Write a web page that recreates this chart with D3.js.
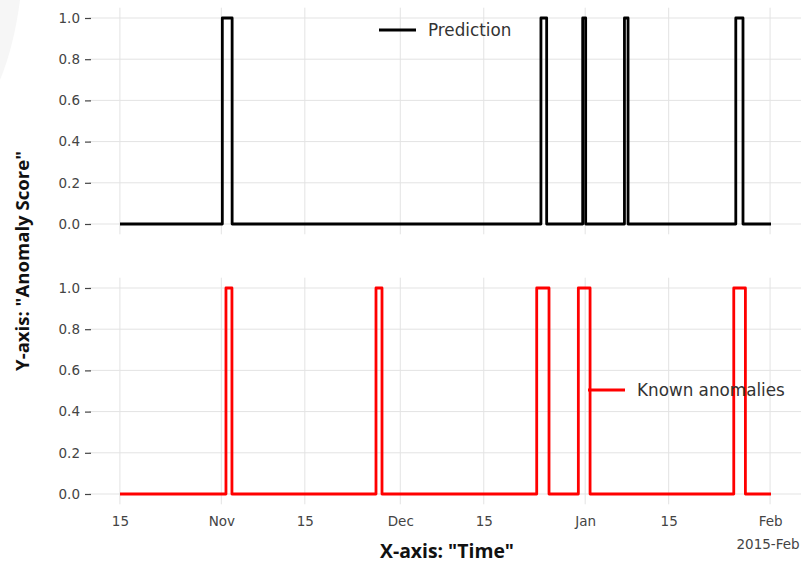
<!DOCTYPE html>
<html>
<head>
<meta charset="utf-8">
<script src="https://cdn.jsdelivr.net/npm/d3@7"></script>
<style>
  html, body { margin: 0; padding: 0; background: #fff; }
  svg { display: block; }
</style>
</head>
<body>
<svg id="chart" width="801" height="563"></svg>
<script>
// ---------- data ----------
const seriesStart = "2014-10-15T06:00";
const seriesEnd   = "2015-01-31T22:00";

const predictionStarts = ["2014-11-01T04:00", "2014-12-24T14:00", "2014-12-31T14:00", "2015-01-07T14:00", "2015-01-26T06:00"];
const predictionEnds   = ["2014-11-02T19:30", "2014-12-25T13:00", "2015-01-01T02:00", "2015-01-08T04:30", "2015-01-27T11:00"];

const knownStarts = ["2014-11-01T18:40", "2014-11-26T22:20", "2014-12-23T21:00", "2014-12-30T20:30", "2015-01-25T21:50"];
const knownEnds   = ["2014-11-02T18:45", "2014-11-27T22:30", "2014-12-25T22:30", "2015-01-01T19:40", "2015-01-27T20:40"];

const yTicks = [0, 0.2, 0.4, 0.6, 0.8, 1.0];
const majorTickDates = ["2014-11-01", "2014-12-01", "2015-01-01", "2015-02-01"];
const majorTickLabels = ["Nov", "Dec", "Jan", "Feb"];
const minorTickDates = ["2014-10-15", "2014-11-15", "2014-12-15", "2015-01-15"];
const minorTickLabels = ["15", "15", "15", "15"];
const offsetLabel = "2015-Feb";

const seriesNames = ["Prediction", "Known anomalies"];
const xTitle = 'X-axis: "Time"';
const yTitle = 'Y-axis: "Anomaly Score"';

// ---------- helpers ----------
const parse = s => new Date(s + "Z");
function buildSeries(starts, ends) {
  const pts = [{t: parse(seriesStart), v: 0}];
  starts.forEach((s, i) => {
    pts.push({t: parse(s), v: 1});
    pts.push({t: parse(ends[i]), v: 0});
  });
  pts.push({t: parse(seriesEnd), v: 0});
  return pts;
}
const predSeries = buildSeries(predictionStarts, predictionEnds);
const knownSeries = buildSeries(knownStarts, knownEnds);

const svg = d3.select("#chart");

// faint corner artifact
svg.append("path").attr("d", "M0,0 L20,0 Q14,46 0,80 Z").attr("fill", "#f6f6f6");

// ---------- scales ----------
const t0 = parse(seriesStart), t1 = parse(seriesEnd);
const span = t1 - t0;
const x = d3.scaleUtc()
  .domain([new Date(+t0 - 0.05 * span), new Date(+t1 + 0.05 * span)])
  .range([89, 802]);

const panels = [
  {series: predSeries, color: "#000000", top: 7.7, bottom: 234.3, name: seriesNames[0],
   legendX: 379, legendY: 30, showX: false},
  {series: knownSeries, color: "#ff0000", top: 277.7, bottom: 504.3, name: seriesNames[1],
   legendX: 588, legendY: 390, showX: true}
];

const allTickDates = majorTickDates.concat(minorTickDates).map(parse);

panels.forEach(p => {
  const y = d3.scaleLinear().domain([-0.05, 1.05]).range([p.bottom, p.top]);
  const g = svg.append("g");

  // vertical gridlines
  g.selectAll("line.vg").data(allTickDates).enter().append("line")
    .attr("x1", d => x(d)).attr("x2", d => x(d))
    .attr("y1", p.top).attr("y2", p.bottom)
    .attr("stroke", "#e3e3e3").attr("stroke-width", 1);

  // horizontal gridlines
  g.selectAll("line.hg").data(yTicks).enter().append("line")
    .attr("x1", x.range()[0]).attr("x2", x.range()[1])
    .attr("y1", d => y(d)).attr("y2", d => y(d))
    .attr("stroke", "#e3e3e3").attr("stroke-width", 1);

  // y axis via d3.axisLeft
  const yAxis = d3.axisLeft(y).tickValues(yTicks).tickFormat(d3.format(".1f"))
    .tickSizeInner(6).tickSizeOuter(0).tickPadding(5);
  const ya = g.append("g").attr("transform", `translate(${x.range()[0] + 2},0)`).call(yAxis);
  ya.select(".domain").remove();
  ya.selectAll(".tick line").attr("stroke", "#444").attr("stroke-width", 1.2);
  ya.selectAll(".tick text")
    .attr("font-family", "DejaVu Sans").attr("font-size", 13.5).attr("fill", "#444");

  // line
  const line = d3.line().x(d => x(d.t)).y(d => y(d.v)).curve(d3.curveStepAfter);
  g.append("path").datum(p.series)
    .attr("d", line).attr("fill", "none")
    .attr("stroke", p.color).attr("stroke-width", 2.8)
    .attr("stroke-linejoin", "round").attr("stroke-linecap", "square");

  // legend
  g.append("line")
    .attr("x1", p.legendX).attr("x2", p.legendX + 37)
    .attr("y1", p.legendY).attr("y2", p.legendY)
    .attr("stroke", p.color).attr("stroke-width", 2.8);
  g.append("text")
    .attr("x", p.legendX + 49).attr("y", p.legendY)
    .attr("dy", "0.35em")
    .attr("font-family", "DejaVu Sans").attr("font-size", 16.8).attr("fill", "#333")
    .text(p.name);

  if (p.showX) {
    const xAxis = d3.axisBottom(x)
      .tickValues(allTickDates)
      .tickFormat(d => {
        const iso = d.toISOString().slice(0, 10);
        const mi = majorTickDates.indexOf(iso);
        if (mi >= 0) return majorTickLabels[mi];
        return minorTickLabels[minorTickDates.indexOf(iso)];
      })
      .tickSize(0).tickPadding(12);
    const xa = g.append("g").attr("transform", `translate(0,${p.bottom})`).call(xAxis);
    xa.select(".domain").remove();
    xa.selectAll(".tick text")
      .attr("font-family", "DejaVu Sans").attr("font-size", 13.5).attr("fill", "#444");
    // offset label
    g.append("text")
      .attr("x", x(parse(majorTickDates[majorTickDates.length - 1])) - 2)
      .attr("y", 544).attr("dy", "0.35em").attr("text-anchor", "middle")
      .attr("font-family", "DejaVu Sans").attr("font-size", 13.5).attr("fill", "#444")
      .text(offsetLabel);
  }
});

// axis titles
function fitText(sel, target) {
  const w = sel.node().getComputedTextLength();
  const fs = parseFloat(sel.attr("font-size"));
  sel.attr("font-size", fs * target / w);
}
const xt = svg.append("text")
  .attr("x", 447).attr("y", 551).attr("dy", "0.35em").attr("text-anchor", "middle")
  .attr("font-family", "Open Sans").attr("font-weight", 700).attr("font-size", 18)
  .attr("fill", "#111").text(xTitle);
fitText(xt, 134);

const yt = svg.append("text")
  .attr("transform", "translate(22,261) rotate(-90)")
  .attr("dy", "0.35em").attr("text-anchor", "middle")
  .attr("font-family", "Open Sans").attr("font-weight", 700).attr("font-size", 18)
  .attr("fill", "#111").text(yTitle);
fitText(yt, 220);
</script>
</body>
</html>
